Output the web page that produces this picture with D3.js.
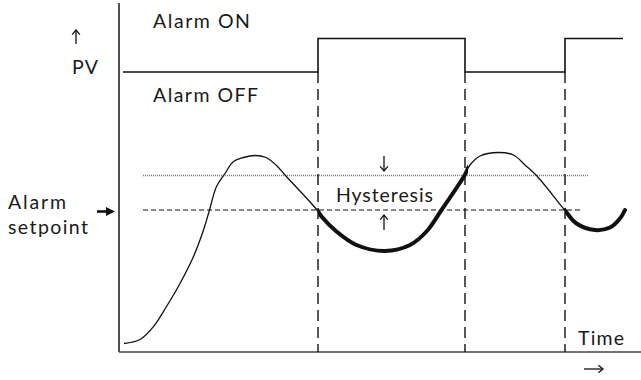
<!DOCTYPE html>
<html>
<head>
<meta charset="utf-8">
<script src="https://cdn.jsdelivr.net/npm/d3@7"></script>
<style>
  html, body { margin: 0; padding: 0; background: #fff; }
  svg { display: block; }
  text { font-family: Lato, "Open Sans", sans-serif; font-weight: 400; fill: #1a1a1a; }
</style>
</head>
<body>
<svg id="chart" width="641" height="380"></svg>
<script>
// Process value over time (time units, PV units)
const pvTime  = [1.0, 4.2, 6.9, 9.5, 12.2, 14.9, 16.9, 18.1, 19.5, 21.2, 22.9, 24.9, 27.2, 29.4, 31.4, 33.2, 39.6, 40.5, 43.5, 47.5, 53.2, 58.2, 61.5, 64.5, 69.1, 70.2, 72.2, 75.9, 78.9, 81.2, 83.5, 89.2, 91.5, 95.2, 98.2, 100.2, 101.2];
const pvValue = [1.7, 2.5, 5.1, 9.1, 13.7, 19.1, 24.4, 28.4, 33.1, 35.7, 38.1, 38.9, 39.3, 38.9, 37.4, 35.4, 28.4, 27.1, 24.1, 21.4, 20.2, 21.4, 24.1, 28.4, 35.3, 37.4, 39.2, 39.9, 39.4, 37.4, 35.3, 28.3, 25.7, 24.4, 24.9, 26.7, 28.4];

// Alarm output trace: switching instants and states
const switchTimes  = [39.8, 69.2, 89.2];
const alarmStart   = 0.8;
const alarmEnd     = 100.8;
const alarmStates  = ["OFF", "ON", "OFF", "ON"];
const alarmLevels  = { OFF: 56, ON: 62.7 };

// Setpoint and hysteresis band
const setpoint     = 28.4;
const hysteresis   = 6.9;
const setpointSpan = [4.8, 92.4];
const bandSpan     = [4.8, 93.8];

const svg = d3.select("#chart");
const x = d3.scaleLinear().domain([0, 104.4]).range([119, 641]);
const y = d3.scaleLinear().domain([0, 70]).range([352, 2]);

const ink = "#111";

// Axes
svg.append("line").attr("x1", x(0)).attr("x2", x(0)).attr("y1", y(69.8)).attr("y2", y(0))
  .attr("stroke", "#222").attr("stroke-width", 1.6);
svg.append("line").attr("x1", x(0)).attr("x2", x(104.4)).attr("y1", y(0)).attr("y2", y(0))
  .attr("stroke", "#444").attr("stroke-width", 1.6);

// Hysteresis upper limit (dotted) and setpoint (dashed)
svg.append("line")
  .attr("x1", x(bandSpan[0])).attr("x2", x(bandSpan[1]))
  .attr("y1", y(setpoint + hysteresis)).attr("y2", y(setpoint + hysteresis))
  .attr("stroke", "#777").attr("stroke-width", 1.4).attr("stroke-dasharray", "1,1");
svg.append("line")
  .attr("x1", x(setpointSpan[0])).attr("x2", x(setpointSpan[1]))
  .attr("y1", y(setpoint)).attr("y2", y(setpoint))
  .attr("stroke", ink).attr("stroke-width", 1.2).attr("stroke-dasharray", "5,3");

// Alarm step trace
const bounds = [alarmStart, ...switchTimes, alarmEnd];
const stepPts = [];
alarmStates.forEach((s, i) => {
  stepPts.push([bounds[i], alarmLevels[s]]);
  stepPts.push([bounds[i + 1], alarmLevels[s]]);
});
svg.append("path")
  .attr("d", d3.line().x(d => x(d[0])).y(d => y(d[1]))(stepPts))
  .attr("fill", "none").attr("stroke", ink).attr("stroke-width", 1.6);

// Switching instants (dashed verticals)
switchTimes.forEach(t => {
  svg.append("line")
    .attr("x1", x(t)).attr("x2", x(t))
    .attr("y1", y(alarmLevels.OFF)).attr("y2", y(0))
    .attr("stroke", ink).attr("stroke-width", 1.4).attr("stroke-dasharray", "11,6");
});

// PV curve: thin overall, thick while alarm is active
const pts = pvTime.map((t, i) => [t, pvValue[i]]);
const curve = d3.line().x(d => x(d[0])).y(d => y(d[1])).curve(d3.curveCatmullRom.alpha(0.5));
svg.append("path").attr("d", curve(pts))
  .attr("fill", "none").attr("stroke", ink).attr("stroke-width", 1.3);

const onWindows = [[switchTimes[0], switchTimes[1]], [switchTimes[2], pvTime[pvTime.length - 1]]];
svg.append("clipPath").attr("id", "onclip")
  .selectAll("rect").data(onWindows).join("rect")
  .attr("x", d => x(d[0])).attr("width", d => x(d[1]) - x(d[0]) + 3)
  .attr("y", 0).attr("height", 380);
svg.append("path").attr("d", curve(pts)).attr("clip-path", "url(#onclip)")
  .attr("fill", "none").attr("stroke", ink).attr("stroke-width", 4).attr("stroke-linecap", "round");

// Labels
const fs = 19.5;
function label(txt, px, py, w) {
  const t = svg.append("text").attr("x", px).attr("y", py).attr("font-size", fs).text(txt);
  if (w) t.attr("textLength", w).attr("lengthAdjust", "spacing");
  return t;
}
label("Alarm ON", 153, 28, 97);
label("Alarm OFF", 153, 102, 105);
label("PV", 72, 74, 26);
label("Alarm", 8, 209, 58);
label("setpoint", 8, 234, 80);
label("Hysteresis", 336, 202, 97);
label("Time", 578, 345, 46);

// Arrows
function arrow(x1, y1, x2, y2, w, head) {
  svg.append("line").attr("x1", x1).attr("y1", y1).attr("x2", x2).attr("y2", y2)
    .attr("stroke", ink).attr("stroke-width", w);
  const a = Math.atan2(y2 - y1, x2 - x1);
  const p = [
    [x2 - head * Math.cos(a - 0.7), y2 - head * Math.sin(a - 0.7)],
    [x2, y2],
    [x2 - head * Math.cos(a + 0.7), y2 - head * Math.sin(a + 0.7)]
  ];
  svg.append("path").attr("d", d3.line()(p)).attr("fill", "none")
    .attr("stroke", ink).attr("stroke-width", w);
}
arrow(76, 44, 76, 30, 1.3, 6);                       // PV up
arrow(384, 156, 384, 171, 1.3, 6);                   // hysteresis down
arrow(384, 230, 384, 215, 1.3, 6);                   // hysteresis up
arrow(584, 369, 603, 369, 1.3, 6);                   // time right

// Setpoint pointer (solid head)
const sy = y(setpoint) + 1.5;
svg.append("line").attr("x1", 97).attr("x2", 108).attr("y1", sy).attr("y2", sy)
  .attr("stroke", ink).attr("stroke-width", 2.6);
svg.append("path").attr("d", d3.line()([[106, sy - 4.5], [115, sy], [106, sy + 4.5]]) + "Z")
  .attr("fill", ink);
</script>
</body>
</html>
